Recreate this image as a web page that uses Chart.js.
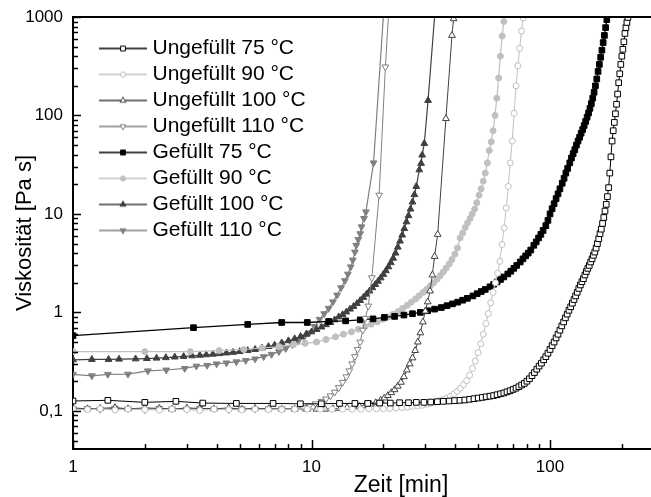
<!DOCTYPE html>
<html>
<head>
<meta charset="utf-8">
<script src="https://cdn.jsdelivr.net/npm/chart.js@4.4.0/dist/chart.umd.min.js"></script>
<style>
  html, body { margin: 0; padding: 0; background: #fff; }
  canvas { display: block; }
</style>
</head>
<body>
<canvas id="chart" width="651" height="497"></canvas>
<script>
// Zeit [min] / Viskosität [Pa s]
const u75Time = [
  1, 1.4, 2, 2.7, 3.5, 4.84, 6.9, 8.98, 11, 13.1,
  15.2, 17.2, 19.3, 21.4, 23.4, 25.5, 27.5, 29.6, 31.6, 33.7,
  35.7, 37.8, 39.8, 41.9, 43.9, 46, 48, 50, 52, 54,
  56, 58, 60, 62, 64, 66, 68, 70, 72, 74,
  76, 78, 80, 82, 84, 86, 88, 90, 92, 94,
  96, 98, 100, 102, 104, 106, 108, 110, 112, 114,
  116, 118, 120, 122, 124, 126, 128, 130, 132, 134,
  136, 138, 140, 142, 144, 146, 148, 150, 152, 154,
  156, 158, 160, 162, 164, 166, 168, 170, 172, 174,
  176, 178, 180, 182, 184, 186, 188, 190, 192, 194,
  196, 198, 200, 202, 204, 206, 208, 210, 212
];
const u75Visc = [
  0.126, 0.128, 0.122, 0.125, 0.12, 0.119, 0.119, 0.118, 0.118, 0.119,
  0.119, 0.119, 0.12, 0.12, 0.121, 0.121, 0.122, 0.122, 0.123, 0.124,
  0.125, 0.126, 0.127, 0.128, 0.129, 0.131, 0.133, 0.135, 0.137, 0.139,
  0.141, 0.143, 0.146, 0.149, 0.152, 0.156, 0.16, 0.165, 0.17, 0.176,
  0.183, 0.19, 0.2, 0.212, 0.228, 0.245, 0.265, 0.285, 0.305, 0.33,
  0.355, 0.385, 0.42, 0.46, 0.5, 0.55, 0.6, 0.66, 0.73, 0.8,
  0.88, 0.96, 1.05, 1.14, 1.24, 1.35, 1.47, 1.6, 1.75, 1.9,
  2.05, 2.2, 2.4, 2.6, 2.8, 3.0, 3.25, 3.5, 3.8, 4.1,
  4.5, 5.0, 5.6, 6.3, 7.0, 8.0, 9.2, 10.7, 12.5, 15,
  18.5, 26, 38, 55, 70, 85, 104, 130, 165, 215,
  265, 330, 400, 470, 560, 680, 780, 880, 990
];

const u90Time = [
  1, 1.15, 1.3, 1.5, 1.7, 2, 2.3, 2.6, 3, 3.4,
  3.9, 4.5, 5.1, 5.8, 6.6, 7.5, 8.5, 9.6, 10.9, 12.2,
  13.5, 14.8, 16.1, 17.4, 18.7, 20, 21.3, 22.6, 23.9, 25.2,
  26.5, 27.8, 29.1, 30.4, 31.7, 33, 34.3, 35.6, 36.9, 38.2,
  39.5, 40.8, 42.1, 43.4, 44.7, 46, 47.3, 48.6, 49.9, 51.2,
  52.5, 53.8, 55.1, 56.4, 57.7, 59, 60.3, 61.6, 62.9, 64.2,
  65.5, 66.8, 68.1, 69.4, 70.7, 72, 73.3, 74.6, 75.9, 77.2
];
const u90Visc = [
  0.104, 0.103, 0.105, 0.102, 0.104, 0.103, 0.102, 0.104, 0.103, 0.101,
  0.104, 0.103, 0.102, 0.104, 0.103, 0.103, 0.104, 0.104, 0.104, 0.104,
  0.104, 0.104, 0.104, 0.105, 0.105, 0.105, 0.106, 0.107, 0.108, 0.109,
  0.111, 0.112, 0.114, 0.117, 0.12, 0.123, 0.127, 0.13, 0.135, 0.141,
  0.148, 0.158, 0.17, 0.185, 0.203, 0.23, 0.27, 0.32, 0.39, 0.48,
  0.6, 0.77, 0.97, 1.25, 1.6, 2.0, 2.5, 3.3, 4.9, 7.2,
  11.5, 19, 33, 55, 105, 200, 320, 480, 720, 980
];

const u100Time = [
  1, 1.15, 1.3, 1.5, 1.7, 2, 2.3, 2.6, 3, 3.4,
  3.9, 4.5, 5.1, 5.8, 6.6, 7.5, 8.5, 9.6, 10.5, 11.4,
  12.3, 13.2, 14.1, 15, 15.9, 16.8, 17.7, 18.6, 19.5, 20.2,
  20.9, 21.6, 22.3, 23, 23.7, 24.4, 25.1, 25.8, 26.5, 27.2,
  27.9, 28.6, 29.3, 30, 30.7, 31.4, 32.1, 32.8, 33.8, 36.6,
  38.8, 39.4
];
const u100Visc = [
  0.107, 0.105, 0.106, 0.108, 0.105, 0.107, 0.106, 0.104, 0.107, 0.106,
  0.105, 0.107, 0.104, 0.106, 0.105, 0.104, 0.104, 0.104, 0.104, 0.104,
  0.105, 0.106, 0.108, 0.109, 0.111, 0.113, 0.117, 0.121, 0.128, 0.135,
  0.143, 0.153, 0.164, 0.178, 0.195, 0.222, 0.26, 0.3, 0.345, 0.41,
  0.5, 0.62, 0.8, 1.03, 1.28, 1.65, 2.4, 3.7, 6.2, 93,
  650, 960
];

const u110Time = [
  1, 1.15, 1.3, 1.5, 1.7, 2, 2.3, 2.6, 3, 3.4,
  3.9, 4.5, 5.1, 5.8, 6.6, 7.5, 8.5, 9.2, 9.8, 10.4,
  11, 11.5, 12, 12.5, 13, 13.5, 14, 14.4, 14.8, 15.2,
  15.6, 16, 16.4, 16.8, 17.3, 17.9, 19.2, 20.4, 21
];
const u110Visc = [
  0.105, 0.106, 0.104, 0.106, 0.105, 0.103, 0.106, 0.105, 0.104, 0.106,
  0.105, 0.103, 0.105, 0.104, 0.105, 0.105, 0.106, 0.108, 0.112, 0.118,
  0.125, 0.132, 0.142, 0.155, 0.172, 0.195, 0.222, 0.255, 0.3, 0.355,
  0.42, 0.5, 0.66, 0.87, 1.16, 2.25, 15.5, 311, 1000
];

const g75Time = [
  1, 3.2, 5.4, 7.5, 9.6, 11.8, 13.9, 16, 18.1, 20.2,
  22.3, 24.4, 26.5, 28.6, 30.7, 32.8, 35, 37, 39, 41,
  43, 45, 47.5, 49.5, 51.5, 53.5, 56, 58, 60, 62,
  64, 66.5, 68.5, 70.5, 72.5, 75, 77, 79, 81, 83,
  85.5, 87.5, 89.5, 91.5, 93.5, 96, 98, 100, 102, 104,
  106, 108, 110, 112.5, 114.5, 116.5, 118.5, 121, 123, 125,
  127, 129, 131, 133, 135, 137, 139, 141, 143, 145,
  147, 149, 151, 153, 155, 157, 159, 161, 163, 165,
  167, 169, 171, 173, 174
];
const g75Visc = [
  0.58, 0.70, 0.755, 0.79, 0.79, 0.81, 0.82, 0.84, 0.86, 0.89,
  0.91, 0.94, 0.97, 1.0, 1.04, 1.08, 1.12, 1.17, 1.22, 1.27,
  1.33, 1.39, 1.47, 1.55, 1.63, 1.71, 1.82, 1.93, 2.04, 2.16,
  2.29, 2.46, 2.62, 2.8, 3.0, 3.25, 3.5, 3.75, 4.0, 4.3,
  4.8, 5.2, 5.7, 6.2, 6.8, 7.6, 8.6, 10, 11.3, 12.7,
  14.3, 16, 18, 20.5, 23, 26, 29, 33, 37, 41,
  45, 50, 55, 60, 66, 72, 79, 87, 96, 106,
  118, 132, 150, 172, 200, 235, 280, 330, 390, 460,
  550, 650, 780, 940, 1000
];

const g90Time = [
  1, 2, 3.1, 4.1, 5.2, 6.2, 7.3, 8.4, 9.4, 10.5,
  11.5, 12.6, 13.6, 14.7, 15.7, 16.8, 17.8, 18.9, 19.9, 21,
  22, 23.1, 24.1, 25.2, 26.2, 27.3, 28.3, 29.4, 30.4, 31.5,
  32.5, 33.6, 34.6, 35.7, 36.7, 37.8, 38.8, 39.9, 40.9, 42,
  43, 44.1, 45.1, 46.2, 47.2, 48.3, 49.3, 50.4, 51.4, 52.5,
  53.5, 54.6, 55.6, 56.7, 57.7, 58.8, 59.8, 60.9, 61.9, 63,
  64
];
const g90Visc = [
  0.40, 0.40, 0.40, 0.41, 0.42, 0.435, 0.45, 0.47, 0.485, 0.5,
  0.53, 0.565, 0.6, 0.635, 0.675, 0.72, 0.76, 0.8, 0.85, 0.9,
  0.96, 1.02, 1.1, 1.18, 1.27, 1.37, 1.48, 1.6, 1.72, 1.86,
  2.0, 2.17, 2.36, 2.58, 2.82, 3.1, 3.45, 3.9, 4.5, 5.7,
  6.4, 7.3, 8.1, 9.0, 10, 11.2, 13, 15.5, 18, 21.5,
  26, 33, 44, 54, 70, 100, 150, 240, 400, 640,
  900
];

const g100Time = [
  1, 1.2, 1.41, 1.56, 1.83, 2.04, 2.24, 2.45, 2.67, 2.91,
  3.16, 3.4, 3.62, 3.86, 4.12, 4.4, 4.69, 5, 5.4, 5.8,
  6.2, 6.6, 7, 7.5, 8, 8.5, 9, 9.5, 10, 10.5,
  11, 11.5, 12, 12.5, 13, 13.5, 14, 14.5, 15, 15.5,
  16, 16.5, 17, 17.5, 18, 18.5, 19, 19.5, 20, 20.5,
  21, 21.5, 22, 22.5, 23, 23.5, 24, 24.5, 25, 25.5,
  26, 26.5, 27, 27.5, 28.3, 28.8, 29.1, 29.7, 30.8, 32.8
];
const g100Visc = [
  0.33, 0.333, 0.333, 0.335, 0.337, 0.34, 0.343, 0.347, 0.352, 0.357,
  0.362, 0.367, 0.371, 0.376, 0.381, 0.387, 0.393, 0.40, 0.41, 0.42,
  0.435, 0.45, 0.465, 0.49, 0.515, 0.54, 0.57, 0.6, 0.635, 0.67,
  0.71, 0.75, 0.79, 0.84, 0.9, 0.95, 1.01, 1.08, 1.15, 1.23,
  1.32, 1.42, 1.53, 1.65, 1.78, 1.92, 2.07, 2.24, 2.43, 2.65,
  2.9, 3.2, 3.55, 4.0, 4.6, 5.3, 6.1, 7.1, 8.3, 9.6,
  11.2, 13.2, 15.7, 19, 28, 32.6, 39.6, 52, 142, 1000
];

const g110Time = [
  1, 1.2, 1.4, 1.7, 2.06, 2.46, 2.94, 3.29, 3.65, 4,
  4.4, 4.84, 5.3, 5.8, 6.3, 6.8, 7.3, 7.8, 8.3, 8.8,
  9.3, 9.8, 10.3, 10.8, 11.3, 11.8, 12.3, 12.8, 13.3, 13.8,
  14.2, 14.6, 14.9, 15.2, 15.4, 15.7, 16, 16.2, 16.6, 16.9,
  18.2, 20
];
const g110Visc = [
  0.235, 0.227, 0.235, 0.236, 0.255, 0.26, 0.27, 0.285, 0.29, 0.30,
  0.307, 0.315, 0.325, 0.337, 0.355, 0.375, 0.40, 0.43, 0.47, 0.51,
  0.56, 0.62, 0.72, 0.85, 0.97, 1.1, 1.28, 1.5, 1.78, 2.1,
  2.45, 2.9, 3.4, 4.1, 4.8, 5.5, 6.3, 7.4, 9.0, 10.5,
  33, 1000
];

const xTickLabels = [1, 10, 100];
const yTickLabels = [0.1, 1, 10, 100, 1000];
const xTitle = 'Zeit [min]';
const yTitle = 'Viskosität [Pa s]';

const FONT = 'Arial, "Liberation Sans", sans-serif';
Chart.defaults.font.family = FONT;
Chart.defaults.color = '#000';

const series = [
  { label: 'Ungefüllt 75 °C', times: u75Time, values: u75Visc, color: '#000000', shape: 'rect', open: true, r: 4.0, lw: 1 },
  { label: 'Ungefüllt 90 °C', times: u90Time, values: u90Visc, color: '#c0c0c0', shape: 'circle', open: true, r: 3.0, lw: 1 },
  { label: 'Ungefüllt 100 °C', times: u100Time, values: u100Visc, color: '#404040', shape: 'triangle', open: true, r: 3.9, lw: 1 },
  { label: 'Ungefüllt 110 °C', times: u110Time, values: u110Visc, color: '#808080', shape: 'triangle', down: true, open: true, r: 3.9, lw: 1 },
  { label: 'Gefüllt 75 °C', times: g75Time, values: g75Visc, color: '#000000', shape: 'rect', open: false, r: 4.0, lw: 1.3 },
  { label: 'Gefüllt 90 °C', times: g90Time, values: g90Visc, color: '#c0c0c0', shape: 'circle', open: false, r: 3.0, lw: 1.2 },
  { label: 'Gefüllt 100 °C', times: g100Time, values: g100Visc, color: '#404040', shape: 'triangle', open: false, r: 3.9, lw: 1.2 },
  { label: 'Gefüllt 110 °C', times: g110Time, values: g110Visc, color: '#808080', shape: 'triangle', down: true, open: false, r: 3.9, lw: 1.2 }
];

function toPoints(times, values) {
  return times.map((t, i) => ({ x: t, y: values[i] }));
}

// small line + marker picture for the legend
function drawMarker(g, s, x, y, r) {
  g.beginPath();
  if (s.shape === 'rect') {
    const h = r * Math.SQRT1_2;
    g.rect(x - h, y - h, 2 * h, 2 * h);
  } else if (s.shape === 'circle') {
    g.arc(x, y, r, 0, Math.PI * 2);
  } else {
    const d = s.down ? -1 : 1;
    g.moveTo(x, y - d * r);
    g.lineTo(x + r * 0.866, y + d * r / 2);
    g.lineTo(x - r * 0.866, y + d * r / 2);
    g.closePath();
  }
  g.fillStyle = s.open ? '#ffffff' : s.color;
  g.fill();
  g.lineWidth = 1;
  g.strokeStyle = s.color;
  g.stroke();
}

function makeSample(s) {
  const c = document.createElement('canvas');
  c.width = 74;
  c.height = 14;
  const g = c.getContext('2d');
  g.strokeStyle = s.color;
  g.lineWidth = 1.3;
  g.beginPath();
  g.moveTo(26, 7);
  g.lineTo(74, 7);
  g.stroke();
  const r = s.shape === 'circle' ? 2.6 : 3.4;
  drawMarker(g, s, 50, 7, r);
  return c;
}

const samples = series.map(makeSample);

function decadeLabel(value, list) {
  const p = Math.log10(value);
  if (Math.abs(p - Math.round(p)) > 1e-6) return null;
  const v = Math.pow(10, Math.round(p));
  if (!list.some((t) => Math.abs(t - v) / t < 1e-6)) return null;
  return String(Number(v.toPrecision(6))).replace('.', ',');
}

// inward tick marks, top frame line and the x title
const frameTicks = {
  id: 'frameTicks',
  afterDatasetsDraw(chart) {
    const { ctx, chartArea: a, scales } = chart;
    const x = scales.x;
    const y = scales.y;
    ctx.save();
    ctx.strokeStyle = '#000';
    ctx.lineWidth = 2;
    ctx.beginPath();
    ctx.moveTo(a.left, Math.round(a.top));
    ctx.lineTo(a.right, Math.round(a.top));
    ctx.stroke();
    ctx.lineWidth = 1.5;
    ctx.beginPath();
    for (let e = 0; e <= 2; e++) {
      for (let m = 1; m <= 9; m++) {
        const v = m * Math.pow(10, e);
        if (v < x.min || v > x.max) continue;
        const px = Math.round(x.getPixelForValue(v)) + 0.5;
        const len = m === 1 ? 9 : 5;
        ctx.moveTo(px, a.bottom);
        ctx.lineTo(px, a.bottom - len);
      }
    }
    for (let e = -2; e <= 3; e++) {
      for (let m = 1; m <= 9; m++) {
        const v = m * Math.pow(10, e);
        if (v < y.min || v > y.max * 1.0001) continue;
        const py = Math.round(y.getPixelForValue(v)) + 0.5;
        const len = m === 1 ? 8 : 5;
        ctx.moveTo(a.left, py);
        ctx.lineTo(a.left + len, py);
      }
    }
    ctx.stroke();
    ctx.fillStyle = '#000';
    ctx.font = '23px ' + FONT;
    ctx.textAlign = 'center';
    ctx.textBaseline = 'middle';
    ctx.fillText(xTitle, 401, 486);
    ctx.restore();
  }
};

new Chart(document.getElementById('chart'), {
  type: 'line',
  data: {
    datasets: series.map((s) => ({
      label: s.label,
      data: toPoints(s.times, s.values),
      borderColor: s.color,
      borderWidth: s.lw,
      backgroundColor: s.open ? '#ffffff' : s.color,
      pointStyle: s.shape,
      pointRotation: s.down ? 180 : 0,
      pointRadius: (ctx) => (ctx.raw && ctx.raw.y >= 1000 ? 0 : s.r),
      pointBackgroundColor: s.open ? '#ffffff' : s.color,
      pointBorderColor: s.color,
      pointBorderWidth: 1,
      tension: 0,
      fill: false
    }))
  },
  options: {
    responsive: false,
    animation: false,
    events: [],
    layout: { autoPadding: false, padding: { top: 17, right: 0, bottom: 0, left: 0 } },
    plugins: {
      tooltip: { enabled: false },
      legend: {
        position: 'chartArea',
        align: 'start',
        title: { display: true, text: ' ', padding: 0, font: { size: 33, lineHeight: 1 } },
        labels: {
          usePointStyle: true,
          pointStyleWidth: 64,
          padding: 5,
          color: '#000',
          font: { size: 21, family: FONT },
          generateLabels: () => series.map((s, i) => ({
            text: s.label,
            pointStyle: samples[i],
            fillStyle: 'transparent',
            strokeStyle: 'transparent',
            lineWidth: 0,
            rotation: 0,
            hidden: false,
            datasetIndex: i
          }))
        }
      }
    },
    scales: {
      x: {
        type: 'logarithmic',
        min: 1,
        max: 265,
        grid: { display: false, drawTicks: true, tickLength: 8 },
        border: { display: true, color: '#000', width: 2 },
        ticks: {
          autoSkip: false,
          maxRotation: 0,
          padding: 0,
          font: { size: 17 },
          callback: (v) => decadeLabel(v, xTickLabels)
        },
        afterFit: (scale) => { scale.height = 48; }
      },
      y: {
        type: 'logarithmic',
        min: 0.041,
        max: 1000,
        grid: { display: false, drawTicks: true, tickLength: 10 },
        border: { display: true, color: '#000', width: 2 },
        ticks: {
          autoSkip: false,
          padding: 0,
          font: { size: 17 },
          callback: (v) => decadeLabel(v, yTickLabels)
        },
        title: {
          display: true,
          text: yTitle,
          font: { size: 22, lineHeight: 1 },
          padding: { top: 14, bottom: 0 }
        },
        afterFit: (scale) => { scale.width = 73; }
      }
    }
  },
  plugins: [frameTicks]
});
</script>
</body>
</html>
